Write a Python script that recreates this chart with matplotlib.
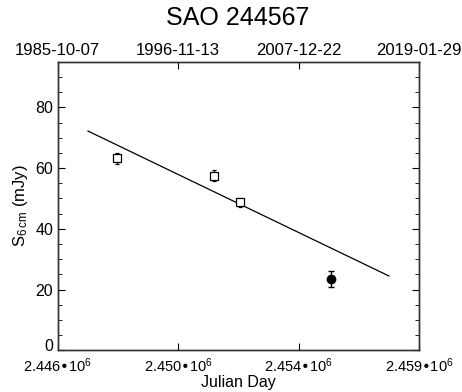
import matplotlib
matplotlib.use("Agg")
import matplotlib.pyplot as plt
import matplotlib.transforms as mtransforms
from matplotlib.ticker import MultipleLocator

plt.rcParams['font.family'] = ['Liberation Sans', 'DejaVu Sans']
plt.rcParams['mathtext.default'] = 'regular'

# VLA 6 cm flux measurements (open squares) and the later one (filled circle)
jd_old = [2448350, 2451610, 2452490]
flux_old = [63.2, 57.5, 48.8]
err_old = [1.8, 1.8, 1.5]

jd_new = [2455550]
flux_new = [23.6]
err_new = [2.6]

# linear fit end points
fit_jd = [2447370, 2457500]
fit_flux = [72.2, 24.5]

tick_jd = [2446345.5, 2450400.5, 2454456.5, 2458512.5]
bottom_labels = ['2.446•10$^{6}$', '2.450•10$^{6}$', '2.454•10$^{6}$', '2.459•10$^{6}$']
top_labels = ['1985-10-07', '1996-11-13', '2007-12-22', '2019-01-29']

fs = 11.5

fig = plt.figure(figsize=(4.62, 3.92), dpi=100)
ax = fig.add_axes([0.1245, 0.106, 0.7825, 0.7365])

ax.plot(fit_jd, fit_flux, color='black', lw=0.9)
ax.errorbar(jd_old, flux_old, yerr=err_old, fmt='s', mfc='white', mec='black',
            ecolor='black', ms=5.5, mew=0.9, elinewidth=0.9, capsize=1.5)
ax.errorbar(jd_new, flux_new, yerr=err_new, fmt='o', color='black',
            ms=6, elinewidth=1.0, capsize=2.5, capthick=1.0)

ax.set_xlim(tick_jd[0], tick_jd[-1])
ax.set_ylim(0, 95)
ax.set_xticks(tick_jd)
ax.set_xticklabels(bottom_labels)
ax.yaxis.set_major_locator(MultipleLocator(20))
ax.yaxis.set_minor_locator(MultipleLocator(5))
ax.tick_params(axis='both', which='both', direction='in', labelsize=fs,
               right=True, top=False, pad=3)
ax.tick_params(axis='x', labelsize=10.5, pad=4)
ax.tick_params(which='major', length=5)
ax.tick_params(which='minor', length=3)

# the "0" label sits a little above the bottom axis, as in the original
fig.canvas.draw()
shift = mtransforms.ScaledTranslation(0, 4 / 72, fig.dpi_scale_trans)
for lab in ax.get_yticklabels():
    if lab.get_text() == '0':
        lab.set_transform(lab.get_transform() + shift)

top = ax.twiny()
top.set_xlim(ax.get_xlim())
top.set_xticks(tick_jd)
top.set_xticklabels(top_labels)
top.tick_params(direction='in', length=5, labelsize=12, pad=3)

for a in (ax, top):
    for sp in a.spines.values():
        sp.set_color('#333333')
        sp.set_linewidth(1.0)

ax.set_xlabel('Julian Day', fontsize=fs, labelpad=0)
ax.set_ylabel('S$_{6\\,cm}$ (mJy)', fontsize=fs + 0.5, labelpad=4)

fig.text(0.514, 0.955, 'SAO 244567', ha='center', va='center', fontsize=18)

fig.savefig('out.png', dpi=100)
